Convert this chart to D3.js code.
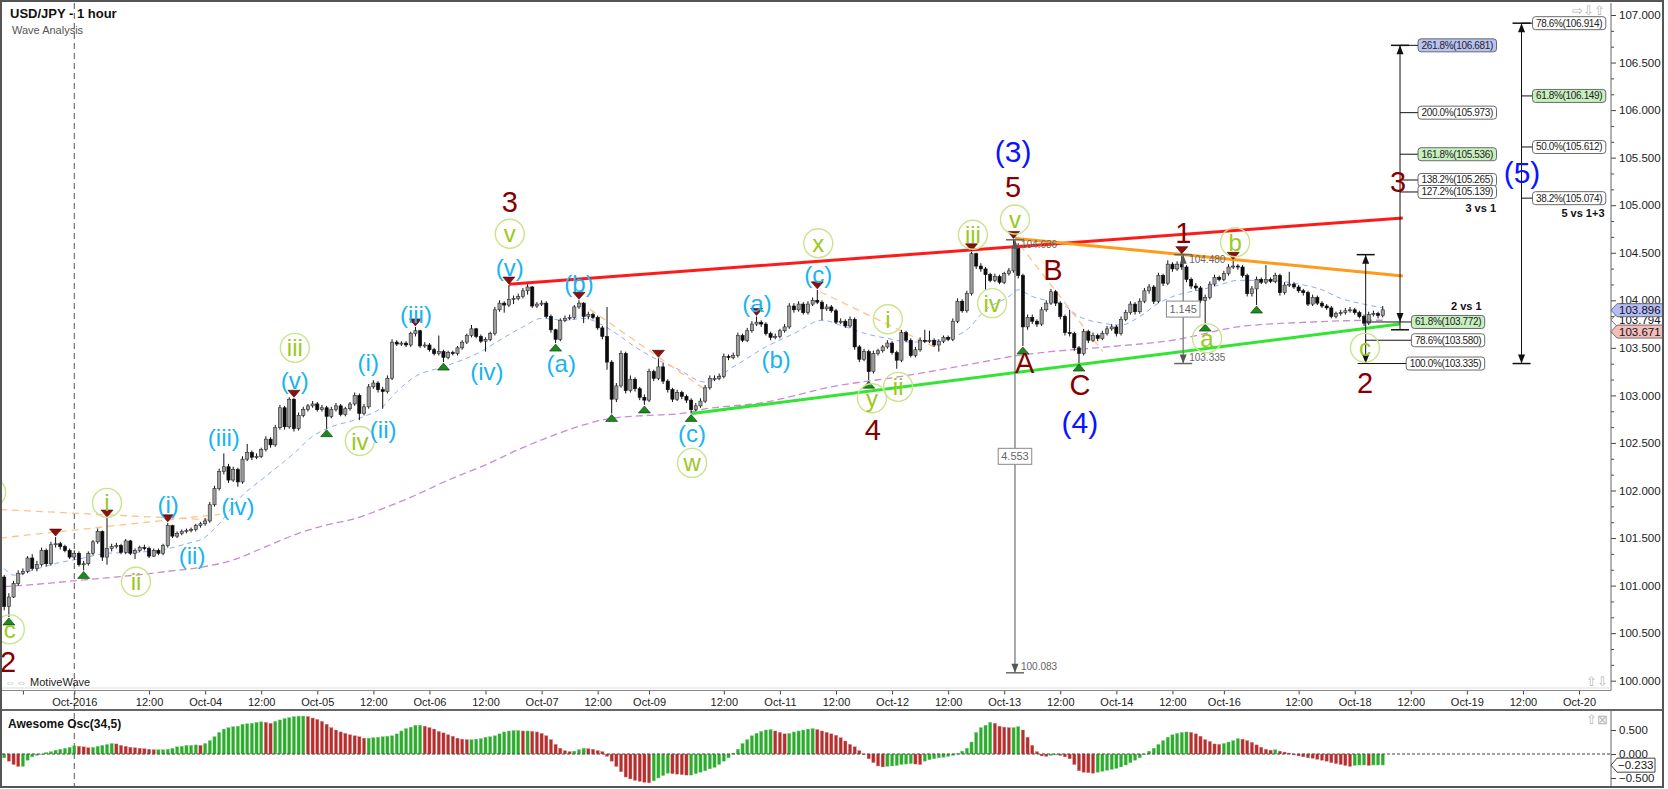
<!DOCTYPE html>
<html>
<head>
<meta charset="utf-8">
<script src="https://cdn.jsdelivr.net/npm/d3@7"></script>
<style>
  html, body { margin: 0; padding: 0; background: #fff; }
  svg { display: block; font-family: "Liberation Sans", Arial, sans-serif; }
</style>
</head>
<body>
<div id="chart"></div>
<script>
/**
 * DATA (one hourly bar per entry)
 * */
const firstOpen = 101.09;
const closes = [
  100.78,100.88,101.02,101.13,101.15,101.29,101.18,101.22,101.37,101.23,
  101.43,101.44,101.41,101.37,101.30,101.34,101.22,101.23,101.34,101.46,
  101.57,101.30,101.39,101.41,101.42,101.35,101.47,101.34,101.37,101.40,
  101.39,101.31,101.37,101.34,101.42,101.63,101.52,101.55,101.57,101.58,
  101.59,101.63,101.65,101.68,101.85,102.02,102.20,102.25,102.11,102.22,
  102.09,102.33,102.40,102.35,102.36,102.43,102.54,102.48,102.66,102.87,
  102.67,102.96,102.65,102.79,102.85,102.89,102.91,102.85,102.87,102.78,
  102.85,102.89,102.80,102.86,102.91,103.00,102.81,102.88,103.09,103.13,
  103.06,103.04,103.18,103.56,103.54,103.55,103.53,103.65,103.68,103.52,
  103.53,103.48,103.44,103.46,103.40,103.45,103.44,103.50,103.56,103.63,
  103.70,103.62,103.57,103.59,103.65,103.90,103.97,103.95,104.01,104.02,
  104.04,104.10,104.14,103.94,103.96,103.97,103.83,103.69,103.59,103.79,
  103.81,103.82,103.93,103.97,103.83,103.85,103.82,103.71,103.62,103.35,
  102.96,103.10,103.44,103.05,103.17,103.07,102.98,102.95,103.25,103.18,
  103.30,103.15,103.06,102.96,103.03,102.99,102.95,102.85,102.89,102.94,
  103.08,103.18,103.18,103.20,103.41,103.40,103.42,103.63,103.58,103.68,
  103.75,103.77,103.75,103.65,103.61,103.62,103.68,103.72,103.94,103.90,
  103.96,103.87,103.96,104.00,103.98,103.91,103.93,103.89,103.77,103.78,
  103.73,103.80,103.51,103.38,103.46,103.25,103.44,103.47,103.51,103.55,
  103.45,103.37,103.66,103.58,103.42,103.48,103.58,103.57,103.58,103.53,
  103.57,103.61,103.59,103.78,103.99,103.89,104.07,104.49,104.36,104.33,
  104.27,104.21,104.25,104.19,104.28,104.31,104.56,104.26,103.72,103.82,
  103.78,103.75,103.90,103.97,104.09,103.97,103.83,103.66,103.65,103.50,
  103.44,103.67,103.58,103.63,103.60,103.65,103.70,103.72,103.65,103.80,
  103.87,103.96,103.88,103.99,104.10,104.14,103.99,104.26,104.18,104.38,
  104.33,104.38,104.35,104.22,104.15,104.13,104.00,104.03,104.17,104.24,
  104.22,104.28,104.35,104.36,104.35,104.26,104.07,104.12,104.22,104.19,
  104.22,104.20,104.26,104.08,104.16,104.17,104.14,104.10,104.08,103.96,
  104.03,103.97,103.94,103.92,103.83,103.86,103.87,103.89,103.90,103.87,
  103.83,103.76,103.85,103.86,103.84,103.90
];
const highs = [
  101.11,100.92,101.05,101.16,101.18,101.31,101.33,101.26,101.40,101.39,
  101.46,101.51,101.46,101.43,101.39,101.37,101.36,101.26,101.36,101.48,
  101.60,101.58,101.71,101.44,101.45,101.44,101.49,101.48,101.39,101.42,
  101.43,101.41,101.39,101.39,101.44,101.66,101.64,101.57,101.59,101.60,
  101.61,101.65,101.67,101.71,101.88,102.05,102.23,102.39,102.28,102.25,
  102.24,102.36,102.49,102.42,102.39,102.45,102.57,102.56,102.69,102.90,
  102.89,102.98,102.97,102.82,102.88,102.91,102.94,102.93,102.90,102.89,
  102.88,102.92,102.91,102.88,102.93,103.03,103.02,102.91,103.12,103.16,
  103.15,103.09,103.21,103.59,103.58,103.57,103.57,103.67,103.72,103.69,
  103.56,103.55,103.50,103.63,103.48,103.47,103.47,103.52,103.58,103.65,
  103.74,103.71,103.64,103.61,103.67,103.93,104.00,103.99,104.16,104.05,
  104.07,104.13,104.17,104.15,103.98,104.00,103.99,103.85,103.70,103.81,
  103.84,103.85,103.95,104.00,103.98,103.88,103.87,103.84,103.73,103.93,
  103.37,103.13,103.47,103.46,103.21,103.19,103.09,103.01,103.28,103.27,
  103.39,103.34,103.17,103.08,103.06,103.05,103.01,102.97,102.92,102.97,
  103.11,103.21,103.21,103.23,103.44,103.43,103.45,103.66,103.65,103.71,
  103.78,103.83,103.79,103.77,103.67,103.65,103.70,103.75,103.97,103.97,
  103.99,103.98,103.99,104.03,104.11,104.00,103.96,103.95,103.91,103.81,
  103.80,103.83,103.82,103.53,103.49,103.48,103.47,103.49,103.53,103.58,
  103.57,103.47,103.69,103.68,103.60,103.51,103.61,103.69,103.68,103.60,
  103.59,103.63,103.63,103.81,104.02,104.01,104.10,104.51,104.50,104.39,
  104.35,104.29,104.28,104.27,104.30,104.34,104.64,104.60,104.28,103.85,
  103.85,103.80,103.93,104.00,104.12,104.11,103.99,103.85,103.90,103.67,
  103.52,103.70,103.69,103.66,103.65,103.68,103.73,103.75,103.74,103.83,
  103.90,103.99,103.98,104.02,104.13,104.17,104.16,104.29,104.28,104.42,
  104.40,104.41,104.48,104.37,104.24,104.18,104.15,104.06,104.20,104.27,
  104.26,104.31,104.38,104.42,104.38,104.37,104.28,104.15,104.25,104.24,
  104.37,104.24,104.29,104.28,104.19,104.30,104.19,104.16,104.12,104.10,
  104.06,104.05,103.99,103.96,103.94,103.88,103.90,103.92,103.93,103.92,
  103.89,103.85,103.88,103.89,103.88,103.94
];
const lows = [
  100.74,100.67,100.87,101.00,101.11,101.13,101.16,101.15,101.20,101.20,
  101.21,101.40,101.38,101.35,101.28,101.27,101.20,101.16,101.21,101.32,
  101.44,101.26,101.22,101.36,101.39,101.33,101.33,101.32,101.28,101.35,
  101.37,101.29,101.30,101.32,101.32,101.40,101.50,101.50,101.53,101.55,
  101.56,101.57,101.61,101.63,101.66,101.83,102.00,102.17,102.08,102.09,
  102.04,102.07,102.31,102.32,102.33,102.34,102.41,102.45,102.46,102.64,
  102.64,102.65,102.62,102.63,102.77,102.83,102.87,102.83,102.83,102.65,
  102.76,102.83,102.78,102.78,102.84,102.89,102.74,102.79,102.86,103.07,
  103.03,102.86,103.02,103.16,103.52,103.52,103.51,103.51,103.62,103.50,
  103.50,103.46,103.42,103.42,103.35,103.38,103.42,103.42,103.48,103.54,
  103.61,103.60,103.55,103.46,103.57,103.63,103.88,103.87,103.93,103.96,
  104.00,104.02,104.06,103.92,103.92,103.94,103.81,103.66,103.55,103.57,
  103.77,103.79,103.80,103.91,103.76,103.80,103.80,103.69,103.59,103.27,
  102.81,102.93,103.08,103.02,103.03,103.04,102.95,102.90,102.93,103.15,
  103.16,103.12,103.03,102.93,102.94,102.96,102.92,102.81,102.83,102.87,
  102.92,103.06,103.15,103.16,103.18,103.37,103.38,103.40,103.56,103.56,
  103.66,103.73,103.72,103.63,103.58,103.59,103.60,103.66,103.70,103.87,
  103.88,103.85,103.85,103.94,103.96,103.79,103.89,103.87,103.75,103.75,
  103.71,103.71,103.48,103.35,103.36,103.16,103.23,103.42,103.45,103.49,
  103.43,103.28,103.35,103.56,103.40,103.40,103.46,103.55,103.55,103.51,
  103.46,103.55,103.57,103.57,103.76,103.87,103.87,104.05,104.33,104.30,
  104.11,104.19,104.19,104.17,104.17,104.26,104.29,104.23,103.52,103.69,
  103.75,103.72,103.73,103.88,103.95,103.94,103.80,103.63,103.62,103.47,
  103.34,103.42,103.55,103.56,103.57,103.58,103.63,103.68,103.62,103.63,
  103.78,103.85,103.85,103.86,103.97,104.07,103.96,103.97,104.15,104.16,
  104.30,104.31,104.32,104.19,104.12,104.10,103.97,103.76,104.01,104.15,
  104.20,104.20,104.26,104.33,104.32,104.24,104.04,104.04,103.95,104.17,
  104.17,104.18,104.18,104.05,104.06,104.14,104.12,104.08,104.05,103.94,
  103.94,103.95,103.92,103.90,103.81,103.81,103.84,103.85,103.87,103.85,
  103.81,103.73,103.74,103.83,103.81,103.82
];
// Awesome Oscillator (34,5), one value per bar
const aoValues = [
  -0.08,-0.15,-0.22,-0.26,-0.26,-0.13,-0.06,-0.03,0.00,0.03,
  0.05,0.08,0.10,0.12,0.14,0.17,0.16,0.15,0.13,0.14,
  0.16,0.18,0.20,0.22,0.21,0.18,0.16,0.14,0.13,0.12,
  0.11,0.10,0.09,0.09,0.09,0.10,0.12,0.15,0.16,0.18,
  0.18,0.19,0.18,0.22,0.28,0.36,0.45,0.52,0.55,0.57,
  0.58,0.62,0.63,0.64,0.66,0.67,0.66,0.64,0.68,0.71,
  0.74,0.76,0.78,0.79,0.79,0.78,0.75,0.72,0.68,0.62,
  0.55,0.50,0.46,0.43,0.40,0.38,0.36,0.33,0.33,0.34,
  0.35,0.36,0.37,0.38,0.42,0.48,0.53,0.56,0.60,0.60,
  0.58,0.55,0.52,0.47,0.44,0.40,0.37,0.33,0.31,0.30,
  0.30,0.31,0.32,0.35,0.36,0.38,0.42,0.46,0.48,0.49,
  0.49,0.48,0.48,0.47,0.46,0.43,0.38,0.30,0.20,0.12,
  0.07,0.05,0.06,0.09,0.12,0.11,0.10,0.07,0.05,-0.05,
  -0.15,-0.26,-0.37,-0.48,-0.52,-0.55,-0.57,-0.59,-0.60,-0.56,
  -0.50,-0.45,-0.40,-0.41,-0.42,-0.43,-0.44,-0.44,-0.41,-0.38,
  -0.35,-0.31,-0.28,-0.22,-0.15,-0.08,0.02,0.10,0.22,0.30,
  0.38,0.43,0.47,0.50,0.51,0.48,0.45,0.42,0.43,0.46,
  0.48,0.50,0.52,0.53,0.51,0.48,0.45,0.42,0.39,0.34,
  0.27,0.20,0.15,0.07,0.00,-0.10,-0.18,-0.25,-0.27,-0.26,
  -0.25,-0.24,-0.22,-0.21,-0.20,-0.21,-0.22,-0.15,-0.12,-0.10,
  -0.08,-0.07,-0.05,-0.03,0.01,0.06,0.12,0.25,0.45,0.55,
  0.60,0.66,0.64,0.58,0.56,0.55,0.55,0.57,0.50,0.35,
  0.18,0.05,-0.04,-0.05,-0.03,-0.02,-0.03,-0.06,-0.10,-0.22,
  -0.35,-0.38,-0.39,-0.40,-0.38,-0.36,-0.34,-0.32,-0.30,-0.27,
  -0.23,-0.18,-0.13,-0.08,0.00,0.06,0.12,0.20,0.28,0.35,
  0.40,0.43,0.45,0.46,0.45,0.42,0.37,0.30,0.26,0.21,
  0.20,0.22,0.25,0.28,0.32,0.31,0.28,0.24,0.19,0.14,
  0.10,0.08,0.09,0.06,0.04,0.02,-0.02,-0.04,-0.06,-0.08,
  -0.09,-0.11,-0.13,-0.15,-0.18,-0.20,-0.22,-0.24,-0.26,-0.24,
  -0.23,-0.23,-0.24,-0.23,-0.23,-0.23
];

// moving averages (bar index, value)
const fastMaIdx = [0,2,6,10,17,22,28,33,39,43,46,50,56,62,66,69,76,81,84,88,94,102,106,111,115,120,124,128,131,135,140,144,150,156,163,169,175,180,185,189,194,202,206,210,215,217,220,224,226,230,235,239,243,247,252,256,260,264,270,276,282,286,290,295];
const fastMaVal = [101.18,101.11,101.16,101.22,101.29,101.34,101.35,101.37,101.44,101.51,101.65,101.90,102.15,102.39,102.57,102.65,102.76,102.88,103.04,103.20,103.30,103.46,103.58,103.72,103.81,103.79,103.81,103.74,103.65,103.51,103.37,103.28,103.14,103.30,103.51,103.65,103.79,103.72,103.64,103.60,103.56,103.60,103.69,103.90,104.04,104.11,104.04,103.99,103.97,103.83,103.76,103.74,103.83,103.97,104.07,104.11,104.16,104.21,104.21,104.18,104.11,104.02,103.97,103.92];
const slowMaIdx = [0,6,17,28,35,43,49,56,63,70,74,81,88,95,103,110,117,124,130,138,145,149,163,177,192,206,217,222,236,250,264,279,293,295];
const slowMaVal = [100.99,101.01,101.06,101.11,101.15,101.20,101.27,101.41,101.55,101.65,101.69,101.81,101.95,102.11,102.27,102.43,102.57,102.69,102.76,102.79,102.81,102.85,102.93,103.09,103.20,103.32,103.42,103.45,103.51,103.58,103.72,103.77,103.79,103.79];

// x axis (bar index of each tick and its label)
const xTickIdx = [4,15,31,43,55,67,79,91,103,115,127,138,154,166,178,190,202,214,226,238,250,261,277,289,301,313,325,337];
const xTickText = ["","Oct-2016","12:00","Oct-04","12:00","Oct-05","12:00","Oct-06","12:00","Oct-07","12:00","Oct-09","12:00","Oct-11","12:00","Oct-12","12:00","Oct-13","12:00","Oct-14","12:00","Oct-16","12:00","Oct-18","12:00","Oct-19","12:00","Oct-20"];
const priceTicks = [100,100.5,101,101.5,102,102.5,103,103.5,104,104.5,105,105.5,106,106.5,107];
const aoTicks = [-0.5,0,0.5];

// wave labels: [text, bar index, price]
const majorLabels = [["2",0.8,100.20],["3",108.2,105.03],["4",185.9,102.64],["5",215.9,105.19],["A",218.4,103.34],["B",224.4,104.32],["C",230.2,103.11],["1",252.3,104.71],["2",291.2,103.13],["3",298.3,105.24]];
const primaryLabels = [["(3)",215.9,105.56],["(4)",230.2,102.71],["(5)",324.8,105.34]];
const minorLabels = [["(i)",35.1,101.85],["(ii)",40.2,101.32],["(iii)",47.0,102.56],["(iv)",50.0,101.83],["(v)",62.2,103.16],["(i)",77.9,103.35],["(ii)",81.1,102.64],["(iii)",88.1,103.85],["(iv)",103.3,103.25],["(v)",108.2,104.35],["(a)",119.2,103.34],["(b)",123.0,104.18],["(c)",147.2,102.60],["(a)",161.1,103.97],["(b)",165.2,103.38],["(c)",174.2,104.27]];
// circled labels; the first one sits mostly off the left edge, only its ring shows
const circleLabels = [["",-2.8,101.98],["c",1.2,100.54],["i",22.0,101.87],["ii",28.2,101.04],["iii",62.2,103.50],["iv",76.1,102.52],["v",108.2,104.70],["w",147.2,102.29],["x",174.2,104.60],["i",189.1,103.80],["y",185.7,102.97],["ii",191.3,103.09],["iii",207.3,104.69],["iv",211.4,103.97],["v",216.3,104.85],["a",257.4,103.60],["b",263.4,104.61],["c",291.2,103.50]];
const swingHighBars = [11,22,35,62,88,108,123,140,161,174,207,216,252,263];
const swingLowBars = [1,17,69,94,118,130,137,147,185,218,230,257,268];

// trend lines: [[bar, price], [bar, price]]
const upperLine = [[108,104.17],[299.3,104.865]];
const lowerLine = [[147.2,102.81],[298.7,103.75]];
const waveBLine = [[216.3,104.652],[299.3,104.256]];
const guideLines = [
  [[-0.9,101.80],[44.7,101.69]],
  [[-0.9,101.50],[46.2,101.75]],
  [[123.2,103.98],[150.6,103.04]],
  [[174.6,104.09],[200.3,103.48]],
  [[217.4,104.58],[235.1,103.46]]
];

// measure tools
const measureAt = [216.3, 252.3];
const measureTop = [104.636, 104.480];
const measureBottom = [100.083, 103.335];
const measureText = ["4.553", "1.145"];

// fibonacci projections
const fib3Pct = [261.8,200.0,161.8,138.2,127.2];
const fib3Val = [106.681,105.973,105.536,105.265,105.139];
const fib2Pct = [61.8,78.6,100.0];
const fib2Val = [103.772,103.580,103.335];
const fib5Pct = [78.6,61.8,50.0,38.2];
const fib5Val = [106.914,106.149,105.612,105.074];

// last-value tags on the price axis
const tagValues = [103.794, 103.896, 103.671];
const aoLast = -0.233;

/**
 * LAYOUT
 * */
const width = 1668, height = 789;
const axisX = 1611, frameR = 1663;
const priceTop = 3, priceBottom = 689, xAxisY = 690.5, oscTop = 711, oscBottom = 786;

const x = d3.scaleLinear().domain([0, 337]).range([4.2, 4.2 + 337 * 4.673]);
const y = d3.scaleLinear().domain([100, 107]).range([680.7, 15]);
const yo = d3.scaleLinear().domain([-0.5, 0.5]).range([778, 730]);
const fmt3 = d3.format(".3f");

const C = {
  maroon: "#850000", blue: "#0a14ff", cyan: "#18b4f2",
  lime: "#9cc81e", ring: "#c9e48c",
  up: "#9d9d9d", down: "#0c0c0c",
  red: "#ff1a1a", green: "#33e533", orange: "#ff9a1a", guide: "#ffc38a",
  fast: "#8eaaff", slow: "#c98bd2"
};

const svg = d3.select("#chart").append("svg").attr("width", width).attr("height", height);
const defs = svg.append("defs");
defs.append("clipPath").attr("id", "pclip").append("rect")
  .attr("x", 2).attr("y", priceTop).attr("width", axisX - 2).attr("height", priceBottom - priceTop);
defs.append("clipPath").attr("id", "oclip").append("rect")
  .attr("x", 2).attr("y", oscTop).attr("width", axisX - 2).attr("height", oscBottom - oscTop);

svg.append("rect").attr("width", width).attr("height", height).attr("fill", "#fff");

// month separator
svg.append("line")
  .attr("x1", x(15)).attr("x2", x(15)).attr("y1", priceTop).attr("y2", oscBottom)
  .attr("stroke", "#555").attr("stroke-dasharray", "6,4");

const gp = svg.append("g").attr("clip-path", "url(#pclip)");

// moving averages
const maLine = d3.line().x(d => x(d[0])).y(d => y(d[1])).curve(d3.curveMonotoneX);
gp.append("path").datum(slowMaIdx.map((d, k) => [d, slowMaVal[k]]))
  .attr("d", maLine).attr("fill", "none").attr("stroke", C.slow)
  .attr("stroke-width", 1.3).attr("stroke-dasharray", "7,4");
gp.append("path").datum(fastMaIdx.map((d, k) => [d, fastMaVal[k]]))
  .attr("d", maLine).attr("fill", "none").attr("stroke", C.fast)
  .attr("stroke-width", 1).attr("stroke-dasharray", "5,4");

// thin dashed guides
const seg = d3.line().x(d => x(d[0])).y(d => y(d[1]));
gp.selectAll(".guide").data(guideLines).join("path").attr("class", "guide")
  .attr("d", seg).attr("fill", "none").attr("stroke", C.guide)
  .attr("stroke-width", 1.3).attr("stroke-dasharray", "7,5");

// candles
const bars = closes.map((c, i) => {
  const o = i ? closes[i - 1] : firstOpen;
  return { i, o, c, h: Math.max(highs[i], o, c), l: Math.min(lows[i], o, c) };
});
gp.selectAll(".wick").data(bars).join("line").attr("class", "wick")
  .attr("x1", d => x(d.i)).attr("x2", d => x(d.i))
  .attr("y1", d => y(d.h)).attr("y2", d => y(d.l))
  .attr("stroke", "#111").attr("stroke-width", 1);
gp.selectAll(".body").data(bars).join("rect").attr("class", "body")
  .attr("x", d => x(d.i) - 1.6).attr("width", 3.2)
  .attr("y", d => y(Math.max(d.o, d.c)))
  .attr("height", d => Math.max(1, Math.abs(y(d.o) - y(d.c))))
  .attr("fill", d => d.c >= d.o ? C.up : C.down)
  .attr("stroke", d => d.c >= d.o ? "#2a2a2a" : C.down).attr("stroke-width", 0.6);

// trend lines
[[upperLine, C.red], [lowerLine, C.green], [waveBLine, C.orange]].forEach(([pts, col]) => {
  gp.append("path").datum(pts).attr("d", seg).attr("fill", "none")
    .attr("stroke", col).attr("stroke-width", 3);
});

// swing markers
gp.selectAll(".hiTri").data(swingHighBars).join("path").attr("class", "hiTri")
  .attr("d", i => { const cx = x(i), t = y(bars[i].h) - 1; return `M${cx - 6},${t - 7}L${cx + 6},${t - 7}L${cx},${t}Z`; })
  .attr("fill", "#8c1010").attr("stroke", "#3a0000").attr("stroke-width", 0.6);
gp.selectAll(".loTri").data(swingLowBars).join("path").attr("class", "loTri")
  .attr("d", i => { const cx = x(i), t = y(bars[i].l) + 1; return `M${cx - 6},${t + 7}L${cx + 6},${t + 7}L${cx},${t}Z`; })
  .attr("fill", "#1c8a1c").attr("stroke", "#063806").attr("stroke-width", 0.6);

// measure tools
function head(g, cx, tip, dir, col) { // dir -1 points up, 1 points down
  g.append("path").attr("d", `M${cx},${tip}L${cx - 3.5},${tip - dir * 9}L${cx + 3.5},${tip - dir * 9}Z`).attr("fill", col);
}
measureAt.forEach((m, k) => {
  const cx = x(m), yt = y(measureTop[k]), yb = y(measureBottom[k]);
  const g = gp.append("g");
  g.append("line").attr("x1", cx).attr("x2", cx).attr("y1", yt).attr("y2", yb).attr("stroke", "#7a7a7a").attr("stroke-width", 1.3);
  [yt, yb].forEach(v => g.append("line").attr("x1", cx - 9).attr("x2", cx + 9).attr("y1", v).attr("y2", v).attr("stroke", "#666").attr("stroke-width", 1.5));
  head(g, cx, yt, -1, "#555");
  head(g, cx, yb, 1, "#555");
  g.append("text").attr("x", cx + 6).attr("y", yt + 8).attr("font-size", 10).attr("fill", "#666").text(fmt3(measureTop[k]));
  g.append("text").attr("x", cx + 6).attr("y", yb - 3).attr("font-size", 10).attr("fill", "#666").text(fmt3(measureBottom[k]));
  const t = g.append("text").attr("x", cx).attr("y", (yt + yb) / 2).attr("text-anchor", "middle")
    .attr("dominant-baseline", "central").attr("font-size", 11).attr("fill", "#666").text(measureText[k]);
  const w = t.node().getComputedTextLength() + 6;
  g.insert("rect", () => t.node()).attr("x", cx - w / 2).attr("y", (yt + yb) / 2 - 8).attr("width", w).attr("height", 16)
    .attr("fill", "#fff").attr("stroke", "#888");
});

// fib label box
function fibBox(g, xa, yc, text, fill, rightAligned) {
  const t = g.append("text").attr("y", yc).attr("dominant-baseline", "central")
    .attr("font-size", 10).attr("letter-spacing", -0.35).attr("fill", "#222").text(text);
  const w = t.node().getComputedTextLength() + 7;
  const left = rightAligned ? xa - w : xa;
  t.attr("x", left + 3.5);
  g.insert("rect", () => t.node()).attr("x", left).attr("y", yc - 6.5).attr("width", w).attr("height", 13)
    .attr("rx", 3).attr("fill", fill).attr("stroke", "#5a5a5a").attr("stroke-width", 0.9);
  return left;
}
const fibFill = p => p === 261.8 ? "#b9c3f3" : (p === 161.8 || p === 61.8) ? "#c7efbf" : "#fff";
const fibLabel = (p, v) => `${p.toFixed(1)}%(${fmt3(v)})`;
const gf = gp.append("g");

// 3 vs 1
{
  const cx = x(298.7), yt = y(fib3Val[0]), yb = y(103.69);
  gf.append("line").attr("x1", cx).attr("x2", cx).attr("y1", yt).attr("y2", yb).attr("stroke", "#111");
  gf.append("line").attr("x1", cx - 9).attr("x2", cx + 9).attr("y1", yt).attr("y2", yt).attr("stroke", "#111").attr("stroke-width", 1.5);
  gf.append("line").attr("x1", cx - 9).attr("x2", cx + 9).attr("y1", yb).attr("y2", yb).attr("stroke", "#111").attr("stroke-width", 1.5);
  head(gf, cx, yt, -1, "#111");
  head(gf, cx, y(103.772), 1, "#111");
  fib3Pct.forEach((p, k) => {
    const yc = y(fib3Val[k]);
    gf.append("line").attr("x1", cx).attr("x2", cx + 18).attr("y1", yc).attr("y2", yc).attr("stroke", "#111");
    fibBox(gf, cx + 18, yc, fibLabel(p, fib3Val[k]), fibFill(p), false);
  });
  gf.append("text").attr("x", cx + 96).attr("y", 212).attr("text-anchor", "end")
    .attr("font-size", 11).attr("font-weight", "bold").attr("fill", "#111").text("3 vs 1");
}
// 2 vs 1
{
  const cx = x(291.35), yt = y(104.48), yb = y(103.335);
  gf.append("line").attr("x1", cx).attr("x2", cx).attr("y1", yt).attr("y2", yb).attr("stroke", "#111");
  gf.append("line").attr("x1", cx - 9).attr("x2", cx + 9).attr("y1", yt).attr("y2", yt).attr("stroke", "#111").attr("stroke-width", 1.5);
  head(gf, cx, yt, -1, "#111");
  head(gf, cx, yb, 1, "#111");
  fib2Pct.forEach((p, k) => {
    const yc = y(fib2Val[k]);
    const g = gf.append("g");
    const left = fibBox(g, cx + 119, yc, fibLabel(p, fib2Val[k]), fibFill(p), true);
    g.insert("line", ":first-child").attr("x1", p === 100 ? cx - 8 : cx).attr("x2", left).attr("y1", yc).attr("y2", yc).attr("stroke", "#111");
  });
  gf.append("text").attr("x", cx + 116).attr("y", 310).attr("text-anchor", "end")
    .attr("font-size", 11).attr("font-weight", "bold").attr("fill", "#111").text("2 vs 1");
}
// 5 vs 1+3
{
  const cx = x(324.7), yt = y(fib5Val[0]), yb = y(103.335);
  gf.append("line").attr("x1", cx).attr("x2", cx).attr("y1", yt).attr("y2", yb).attr("stroke", "#111");
  [yt, yb].forEach(v => gf.append("line").attr("x1", cx - 9).attr("x2", cx + 9).attr("y1", v).attr("y2", v).attr("stroke", "#111").attr("stroke-width", 1.5));
  head(gf, cx, yt, -1, "#111");
  head(gf, cx, yb, 1, "#111");
  fib5Pct.forEach((p, k) => {
    const yc = y(fib5Val[k]);
    gf.append("line").attr("x1", cx).attr("x2", cx + 11).attr("y1", yc).attr("y2", yc).attr("stroke", "#111");
    fibBox(gf, cx + 11, yc, fibLabel(p, fib5Val[k]), fibFill(p), false);
  });
  gf.append("text").attr("x", cx + 83).attr("y", 217).attr("text-anchor", "end")
    .attr("font-size", 11).attr("font-weight", "bold").attr("fill", "#111").text("5 vs 1+3");
}

// wave labels
function labels(list, size, color) {
  gp.append("g").selectAll("text").data(list.filter(d => d[0])).join("text")
    .attr("x", d => x(d[1])).attr("y", d => y(d[2]))
    .attr("text-anchor", "middle").attr("dominant-baseline", "central")
    .attr("font-size", size).attr("fill", color).text(d => d[0]);
}
const gc = gp.append("g");
gc.selectAll("circle").data(circleLabels).join("circle")
  .attr("cx", d => x(d[1])).attr("cy", d => y(d[2])).attr("r", 14.5)
  .attr("fill", "none").attr("stroke", C.ring).attr("stroke-width", 1.4);
labels(circleLabels, 24, C.lime);
labels(minorLabels, 24, C.cyan);
labels(majorLabels, 29, C.maroon);
labels(primaryLabels, 30, C.blue);

// header & watermark
svg.append("text").attr("x", 10).attr("y", 18).attr("font-size", 13).attr("font-weight", "bold").attr("fill", "#111").text("USD/JPY - 1 hour");
svg.append("text").attr("x", 12).attr("y", 34).attr("font-size", 11).attr("fill", "#555").text("Wave Analysis");
svg.append("text").attr("x", 5).attr("y", 686).attr("font-size", 11).attr("fill", "#222")
  .call(t => { t.append("tspan").attr("fill", "#aaa").text("\u21D4\u21D4 "); t.append("tspan").text("MotiveWave"); });
svg.append("text").attr("x", 1572).attr("y", 15).attr("font-size", 13).attr("fill", "#b5b5b5").text("\u21E8\u21E9\u21E7");
svg.append("text").attr("x", 1586).attr("y", 686).attr("font-size", 13).attr("fill", "#b5b5b5").text("\u21E7\u21E9");
svg.append("text").attr("x", 1586).attr("y", 724).attr("font-size", 13).attr("fill", "#b5b5b5").text("\u21E7\u22A0");

// price axis
const ya = svg.append("g").attr("transform", `translate(${axisX},0)`)
  .call(d3.axisRight(y).tickValues(priceTicks).tickFormat(fmt3).tickSize(5).tickPadding(3));
ya.select(".domain").remove();
ya.selectAll("text").attr("font-size", 11.5).attr("fill", "#222").attr("font-family", "Liberation Sans, Arial, sans-serif");
ya.selectAll("line").attr("stroke", "#444");
const minor = [];
priceTicks.slice(0, -1).forEach(v => { minor.push(v + 1 / 6, v + 1 / 3); });
svg.append("g").attr("transform", `translate(${axisX},0)`)
  .call(d3.axisRight(y).tickValues(minor).tickFormat("").tickSize(3))
  .call(g => g.select(".domain").remove()).selectAll("line").attr("stroke", "#444");
svg.append("line").attr("x1", axisX).attr("x2", axisX).attr("y1", priceTop).attr("y2", xAxisY).attr("stroke", "#666");

// last value tags
const tagFill = ["#ffffff", "#b3bcf5", "#f5bcbc"];
tagValues.forEach((v, k) => {
  const yc = y(v);
  svg.append("path").attr("d", `M${axisX},${yc}L${axisX + 6},${yc - 6.5}L${frameR},${yc - 6.5}L${frameR},${yc + 6.5}L${axisX + 6},${yc + 6.5}Z`)
    .attr("fill", tagFill[k]).attr("stroke", "#555").attr("stroke-width", 0.8);
  svg.append("text").attr("x", axisX + 8).attr("y", yc).attr("dominant-baseline", "central")
    .attr("font-size", 11.5).attr("fill", "#111").text(fmt3(v));
});

// time axis
svg.append("line").attr("x1", 2).attr("x2", axisX).attr("y1", priceBottom - 1).attr("y2", priceBottom - 1).attr("stroke", "#ddd");
const xa = svg.append("g").attr("transform", `translate(0,${xAxisY})`)
  .call(d3.axisBottom(x).tickValues(xTickIdx).tickFormat((d, k) => xTickText[k]).tickSize(4).tickPadding(4));
xa.select(".domain").remove();
xa.selectAll("text").attr("font-size", 11).attr("fill", "#222").attr("font-family", "Liberation Sans, Arial, sans-serif");
xa.selectAll("line").attr("stroke", "#444");
svg.append("line").attr("x1", 2).attr("x2", axisX).attr("y1", xAxisY).attr("y2", xAxisY).attr("stroke", "#888");
svg.append("line").attr("x1", 0).attr("x2", frameR).attr("y1", 710).attr("y2", 710).attr("stroke", "#666").attr("stroke-width", 2);

// oscillator panel
const go = svg.append("g").attr("clip-path", "url(#oclip)");
go.selectAll("rect").data(aoValues).join("rect")
  .attr("x", (d, i) => x(i) - 1.6).attr("width", 3.2)
  .attr("y", d => Math.min(yo(d), yo(0)))
  .attr("height", d => Math.max(0.6, Math.abs(yo(d) - yo(0))))
  .attr("fill", (d, i) => (i === 0 || d >= aoValues[i - 1]) ? "#2eab2e" : "#b52f2f")
  .attr("stroke", (d, i) => (i === 0 || d >= aoValues[i - 1]) ? "#7ccf7c" : "#d98080").attr("stroke-width", 0.4);
go.append("line").attr("x1", 2).attr("x2", axisX).attr("y1", yo(0)).attr("y2", yo(0))
  .attr("stroke", "#444").attr("stroke-dasharray", "3,2");
svg.append("text").attr("x", 8).attr("y", 728).attr("font-size", 12).attr("font-weight", "bold").attr("fill", "#111").text("Awesome Osc(34,5)");
const oa = svg.append("g").attr("transform", `translate(${axisX},0)`)
  .call(d3.axisRight(yo).tickValues(aoTicks).tickFormat(fmt3).tickSize(5).tickPadding(3));
oa.select(".domain").remove();
oa.selectAll("text").attr("font-size", 11.5).attr("fill", "#222").attr("font-family", "Liberation Sans, Arial, sans-serif");
oa.selectAll("line").attr("stroke", "#444");
svg.append("line").attr("x1", axisX).attr("x2", axisX).attr("y1", oscTop).attr("y2", oscBottom).attr("stroke", "#666");
{
  const yc = yo(aoLast);
  svg.append("path").attr("d", `M${axisX},${yc}L${axisX + 6},${yc - 7}L${axisX + 44},${yc - 7}L${axisX + 44},${yc + 7}L${axisX + 6},${yc + 7}Z`)
    .attr("fill", "#fff").attr("stroke", "#444");
  svg.append("text").attr("x", axisX + 7).attr("y", yc).attr("dominant-baseline", "central")
    .attr("font-size", 11.5).attr("fill", "#111").text(fmt3(aoLast));
}

// frame
svg.append("rect").attr("x", 1).attr("y", 1).attr("width", frameR - 1).attr("height", oscBottom)
  .attr("fill", "none").attr("stroke", "#555").attr("stroke-width", 2);
</script>
</body>
</html>
